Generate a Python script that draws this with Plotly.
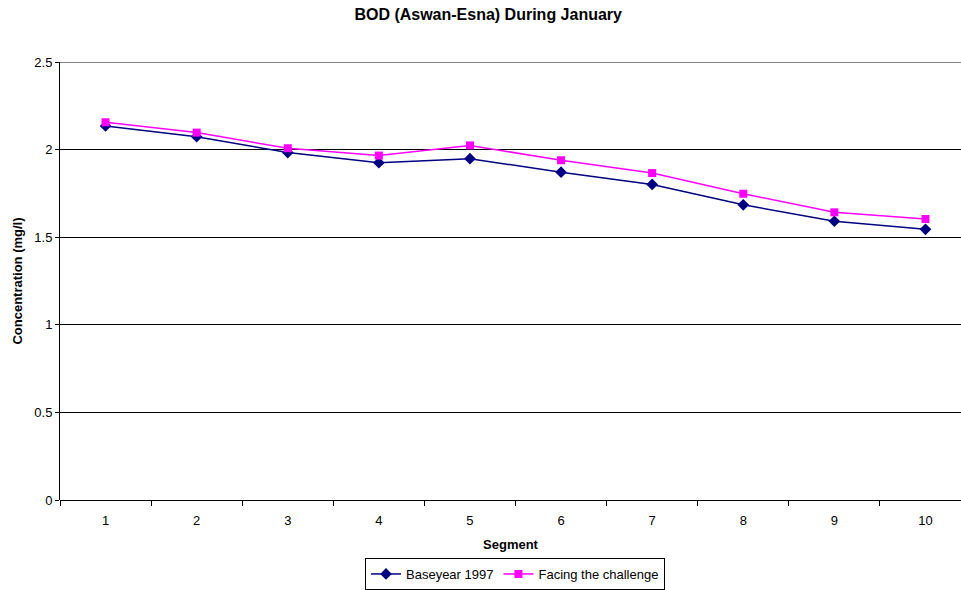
import plotly.graph_objects as go

segments = ["1", "2", "3", "4", "5", "6", "7", "8", "9", "10"]
baseyear_1997 = [2.135, 2.074, 1.983, 1.925, 1.948, 1.871, 1.801, 1.685, 1.591, 1.545]
facing_challenge = [2.156, 2.097, 2.008, 1.966, 2.024, 1.939, 1.866, 1.748, 1.642, 1.604]
y_ticks = [0, 0.5, 1, 1.5, 2, 2.5]
y_tick_labels = ["0", "0.5", "1", "1.5", "2", "2.5"]

FONT = "Liberation Sans, Arial, sans-serif"

fig = go.Figure()
fig.add_trace(go.Scatter(
    x=segments, y=baseyear_1997, name="Baseyear 1997", mode="lines+markers",
    line=dict(color="#000080", width=1.5),
    marker=dict(symbol="diamond", size=9, color="#000080"),
))
fig.add_trace(go.Scatter(
    x=segments, y=facing_challenge, name="Facing the challenge", mode="lines+markers",
    line=dict(color="#FF00FF", width=1.5),
    marker=dict(symbol="square", size=8, color="#FF00FF"),
))

# grey top border of the plot area at 2.5
fig.add_shape(type="line", xref="paper", yref="y", x0=0, x1=1, y0=2.5, y1=2.5,
              line=dict(color="#808080", width=2), layer="above")

fig.update_layout(
    width=961, height=590,
    margin=dict(l=60, r=0, t=62, b=88),
    paper_bgcolor="white", plot_bgcolor="white",
    font=dict(family=FONT, size=13, color="black"),
    title=dict(text="<b>BOD (Aswan-Esna) During January</b>", x=0.508, xanchor="center",
               y=0.976, yanchor="middle", font=dict(size=16, family=FONT)),
    showlegend=True,
    legend=dict(orientation="h", x=0.505, xanchor="center", y=-0.170, yanchor="middle",
                bordercolor="black", borderwidth=1, font=dict(size=13, family=FONT),
                itemwidth=30, tracegroupgap=0),
    xaxis=dict(
        type="category", range=[-0.5, 9.39], tickson="boundaries",
        ticks="outside", ticklen=5, tickcolor="black",
        ticklabelstandoff=11, automargin=False,
        showline=False, showgrid=False, zeroline=False,
        title=dict(text="<b>Segment</b>", font=dict(size=13, family=FONT), standoff=12),
        tickfont=dict(size=13),
    ),
    yaxis=dict(
        range=[0, 2.5], tickvals=y_ticks, ticktext=y_tick_labels,
        ticks="outside", ticklen=4, tickcolor="black", automargin=False,
        showline=True, linecolor="black", linewidth=1,
        showgrid=True, gridcolor="black", gridwidth=1,
        zeroline=True, zerolinecolor="black", zerolinewidth=1,
        title=dict(text="<b>Concentration (mg/l)</b>", font=dict(size=13, family=FONT), standoff=8),
        tickfont=dict(size=13),
    ),
)

fig.write_html("out.html")
